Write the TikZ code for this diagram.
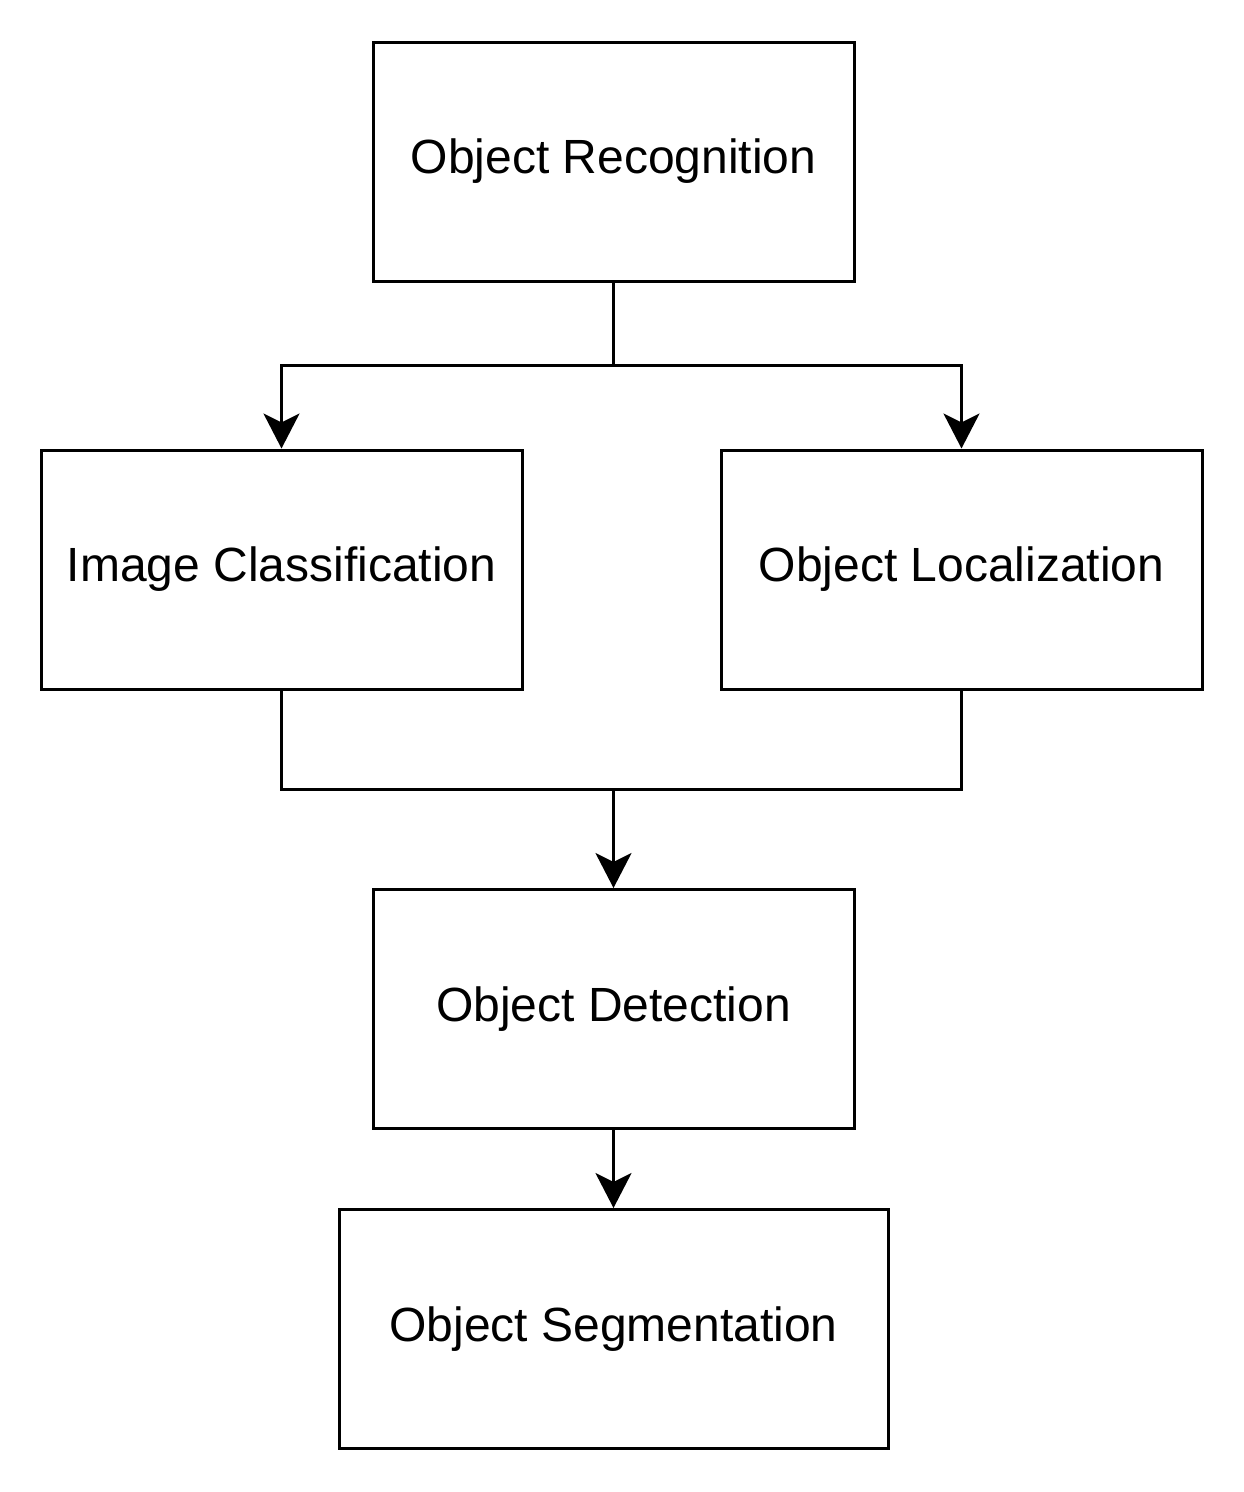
\documentclass[tikz,border=0pt]{standalone}
\usepackage{fontspec}
\setmainfont{Liberation Sans}
\usetikzlibrary{arrows.meta}
\begin{document}
\begin{tikzpicture}[x=1pt,y=-1pt,
  box/.style={draw=black,line width=3pt,minimum width=481pt,minimum height=239pt,inner sep=0pt,font=\fontsize{48}{56}\selectfont},
  conn/.style={line width=3pt,-{Stealth[length=35pt,width=36pt,inset=9pt]}},
  link/.style={line width=3pt}]
\useasboundingbox (0,0) rectangle (1244,1492);
\node[box] (rec) at (613.5,161.5) {Object Recognition};
\node[box] (cls) at (281.5,569.5) {Image Classification};
\node[box] (loc) at (961.5,569.5) {Object Localization};
\node[box] (det) at (613.5,1009) {Object Detection};
\node[box,minimum width=549pt] (seg) at (613.5,1329) {Object Segmentation};
\coordinate (j1) at (613.5,365);
\coordinate (j2) at (613.5,789);
\draw[link] (rec.south) -- (j1);
\draw[conn] (j1) -| (cls.north);
\draw[conn] (j1) -| (loc.north);
\draw[link] (cls.south) |- (j2) -| (loc.south);
\draw[conn] (j2) -- (det.north);
\draw[conn] (det.south) -- (seg.north);
\end{tikzpicture}
\end{document}
